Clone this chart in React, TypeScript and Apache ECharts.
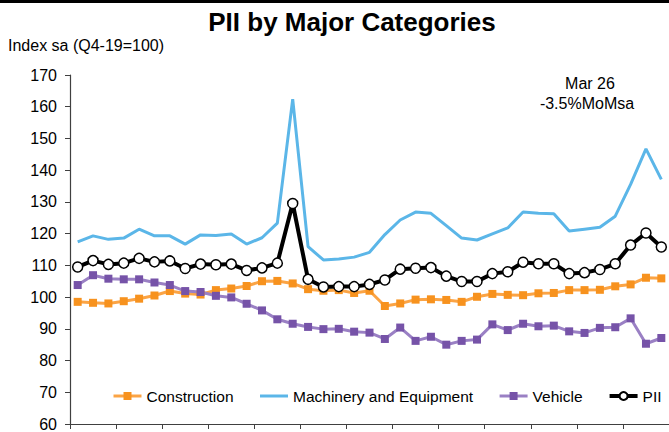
import React, { useEffect, useRef } from "react";
import * as echarts from "echarts";

const months = [
  "Jan 23","Feb 23","Mar 23","Apr 23","May 23","Jun 23","Jul 23","Aug 23","Sep 23","Oct 23","Nov 23","Dec 23",
  "Jan 24","Feb 24","Mar 24","Apr 24","May 24","Jun 24","Jul 24","Aug 24","Sep 24","Oct 24","Nov 24","Dec 24",
  "Jan 25","Feb 25","Mar 25","Apr 25","May 25","Jun 25","Jul 25","Aug 25","Sep 25","Oct 25","Nov 25","Dec 25",
  "Jan 26","Feb 26","Mar 26",
];

const construction = [
  98.5, 98.2, 98.0, 98.7, 99.5, 100.5, 101.9, 101.1, 100.8, 102.2, 102.7, 103.5, 105.0,
  105.1, 104.3, 102.5, 102.0, 102.2, 101.3, 102.0, 97.2, 98.0, 99.2, 99.3, 99.1, 98.5,
  100.1, 101.0, 100.7, 100.6, 101.2, 101.3, 102.2, 102.2, 102.3, 103.4, 104.0, 106.1, 105.9,
];

const machinery = [
  117.4, 119.3, 118.2, 118.6, 121.4, 119.3, 119.3, 116.7, 119.6, 119.4, 119.9, 116.7, 118.7,
  123.3, 162.4, 115.9, 111.7, 112.0, 112.6, 114.1, 119.7, 124.3, 126.8, 126.4, 122.5, 118.6,
  118.0, 119.9, 121.8, 126.8, 126.4, 126.3, 120.8, 121.4, 122.0, 125.5, 135.5, 146.7, 137.1,
];

const vehicle = [
  103.8, 106.9, 105.8, 105.6, 105.6, 104.6, 103.8, 101.9, 101.6, 100.4, 99.9, 97.9, 95.8,
  93.0, 91.6, 90.6, 89.9, 90.0, 89.1, 88.8, 86.8, 90.4, 86.2, 87.5, 85.0, 86.2,
  86.6, 91.4, 89.6, 91.6, 90.8, 91.0, 89.2, 88.7, 90.3, 90.5, 93.3, 85.3, 87.1,
];

const pii = [
  109.5, 111.5, 110.3, 110.7, 112.2, 111.1, 111.4, 109.0, 110.4, 110.2, 110.4, 108.4, 109.2,
  110.7, 129.5, 105.6, 103.2, 103.3, 103.3, 104.0, 105.4, 108.8, 109.1, 109.3, 106.6, 104.9,
  104.9, 107.4, 108.0, 111.0, 110.5, 110.5, 107.4, 107.7, 108.7, 110.5, 116.4, 120.2, 115.8,
];

const legendNames = ["Construction", "Machinery and Equipment", "Vehicle", "PII"];

const yTicks = { min: 60, max: 170, interval: 10 };

const FONT = "Liberation Sans, Arial, sans-serif";

export default function App() {
  const ref = useRef<HTMLDivElement>(null);

  useEffect(() => {
    if (!ref.current) return;
    const chart = echarts.init(ref.current, undefined, { renderer: "svg" });
    chart.setOption({
      animation: false,
      backgroundColor: "#ffffff",
      textStyle: { fontFamily: FONT },
      graphic: [
        { type: "rect", shape: { x: 0, y: 0, width: 669, height: 3 }, style: { fill: "#000" } },
        {
          type: "text",
          x: 352,
          y: 22,
          style: {
            text: "PII by Major Categories",
            fontFamily: FONT,
            fontSize: 26,
            fontWeight: "bold",
            fill: "#000",
            textAlign: "center",
            textVerticalAlign: "middle",
          },
        },
        {
          type: "text",
          x: 8,
          y: 45,
          style: {
            text: "Index sa (Q4-19=100)",
            fontFamily: FONT,
            fontSize: 16,
            fill: "#000",
            textAlign: "left",
            textVerticalAlign: "middle",
          },
        },
        {
          type: "text",
          x: 590,
          y: 83,
          style: {
            text: "Mar 26",
            fontFamily: FONT,
            fontSize: 16,
            fill: "#000",
            textAlign: "center",
            textVerticalAlign: "middle",
          },
        },
        {
          type: "text",
          x: 587,
          y: 103,
          style: {
            text: "-3.5%MoMsa",
            fontFamily: FONT,
            fontSize: 16,
            fill: "#000",
            textAlign: "center",
            textVerticalAlign: "middle",
          },
        },
      ],
      legend: {
        left: 112,
        top: 388,
        width: 620,
        padding: 0,
        itemGap: 25,
        itemWidth: 28,
        itemHeight: 10,
        textStyle: { fontFamily: FONT, fontSize: 15.5, color: "#000" },
        data: [
          { name: legendNames[0], lineStyle: { width: 3 } },
          { name: legendNames[1], itemStyle: { opacity: 0 }, lineStyle: { width: 3 } },
          { name: legendNames[2], lineStyle: { width: 3 } },
          { name: legendNames[3], lineStyle: { width: 4 } },
        ],
      },
      grid: { left: 70, top: 75, width: 603, height: 349 },
      xAxis: {
        type: "category",
        data: months,
        boundaryGap: true,
        axisLine: { lineStyle: { color: "#404040", width: 1.2 } },
        axisTick: { show: true, interval: 2, length: 5, lineStyle: { color: "#404040" } },
        axisLabel: { show: false },
        splitLine: { show: false },
      },
      yAxis: {
        type: "value",
        min: yTicks.min,
        max: yTicks.max,
        interval: yTicks.interval,
        axisLine: { show: true, lineStyle: { color: "#404040", width: 1.2 } },
        axisTick: { show: true, length: 5, lineStyle: { color: "#404040" } },
        axisLabel: { fontFamily: FONT, fontSize: 16, color: "#000", margin: 13 },
        splitLine: { show: false },
      },
      series: [
        {
          name: "Machinery and Equipment",
          type: "line",
          data: machinery,
          symbol: "none",
          lineStyle: { color: "#5BB6E8", width: 3 },
          itemStyle: { color: "#5BB6E8" },
          z: 2,
        },
        {
          name: "Construction",
          type: "line",
          data: construction,
          symbol: "rect",
          symbolSize: 8,
          lineStyle: { color: "#FBA445", width: 3 },
          itemStyle: { color: "#F7921E" },
          z: 3,
        },
        {
          name: "Vehicle",
          type: "line",
          data: vehicle,
          symbol: "rect",
          symbolSize: 8,
          lineStyle: { color: "#9A80C4", width: 3 },
          itemStyle: { color: "#7653A8" },
          z: 3,
        },
        {
          name: "PII",
          type: "line",
          data: pii,
          symbol: "circle",
          symbolSize: 10,
          showAllSymbol: true,
          lineStyle: { color: "#000", width: 4 },
          itemStyle: { color: "#fff", borderColor: "#000", borderWidth: 1.5 },
          z: 4,
        },
      ],
    });
    return () => chart.dispose();
  }, []);

  return (
    <div
      ref={ref}
      style={{ position: "fixed", left: 0, top: 0, width: 669, height: 432 }}
    />
  );
}
